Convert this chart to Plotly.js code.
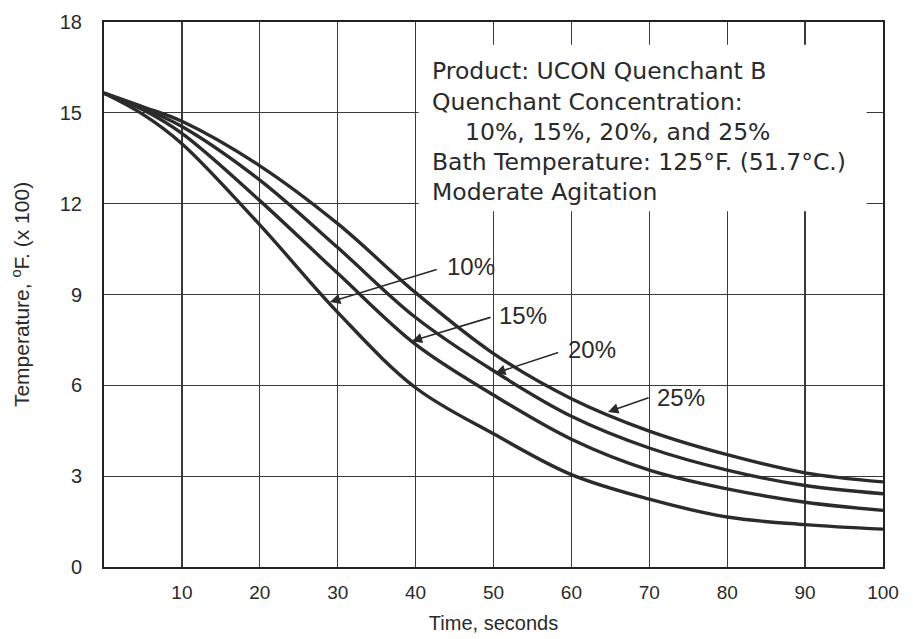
<!DOCTYPE html>
<html>
<head>
<meta charset="utf-8">
<script src="https://cdn.plot.ly/plotly-3.0.1.min.js"></script>
<style>html,body{margin:0;padding:0;background:#fff;}#chart{width:913px;height:639px;}</style>
</head>
<body>
<div id="chart"></div>
<script>
// Time, seconds
const time = [0, 5, 10, 20, 30, 40, 50, 60, 70, 80, 90, 100];
// Temperature, °F x 100, per quenchant concentration
const conc10 = [15.65, 14.95, 13.98, 11.30, 8.41, 5.92, 4.40, 3.05, 2.24, 1.65, 1.40, 1.25];
const conc15 = [15.65, 15.10, 14.32, 12.10, 9.70, 7.35, 5.68, 4.22, 3.20, 2.58, 2.14, 1.87];
const conc20 = [15.65, 15.15, 14.55, 12.78, 10.55, 8.24, 6.48, 4.98, 3.93, 3.20, 2.69, 2.42];
const conc25 = [15.65, 15.20, 14.72, 13.25, 11.34, 9.06, 7.05, 5.56, 4.49, 3.71, 3.11, 2.81];
const seriesNames = ["10%", "15%", "20%", "25%"];
const xTicks = [10, 20, 30, 40, 50, 60, 70, 80, 90, 100];
const yTicks = [0, 3, 6, 9, 12, 15, 18];
const infoLines = [
  "Product: UCON Quenchant B",
  "Quenchant Concentration:",
  "10%, 15%, 20%, and 25%",
  "Bath Temperature: 125°F. (51.7°C.)",
  "Moderate Agitation"
];

const lineCol = "#2b2b2b";
const allSeries = [conc10, conc15, conc20, conc25];
const traces = allSeries.map((ys, i) => ({
  x: time, y: ys, name: seriesNames[i], type: "scatter", mode: "lines",
  line: {color: lineCol, width: 3.4, shape: "spline", smoothing: 1.0},
  hoverinfo: "skip"
}));

// label layout (text centre and arrow tail/tip in axis units)
const labelPos = [
  {tx: 47.1, ty: 9.91, ax: 42.9, ay: 9.84, px: 29.0, py: 8.75},
  {tx: 53.8, ty: 8.32, ax: 49.8, ay: 8.26, px: 39.5, py: 7.46},
  {tx: 62.6, ty: 7.17, ax: 58.5, ay: 7.10, px: 50.2, py: 6.40},
  {tx: 74.1, ty: 5.61, ax: 70.1, ay: 5.61, px: 64.7, py: 5.12}
];
const annFont = {family: "Liberation Sans, Arial, sans-serif", size: 24, color: "#2a2a2a"};
const annotations = [];
labelPos.forEach((p, i) => {
  annotations.push({x: p.tx, y: p.ty, xref: "x", yref: "y", text: seriesNames[i],
    showarrow: false, xanchor: "center", yanchor: "middle", font: annFont});
  annotations.push({x: p.px, y: p.py, xref: "x", yref: "y", ax: p.ax, ay: p.ay,
    axref: "x", ayref: "y", text: "", showarrow: true, arrowhead: 2, arrowsize: 1.3,
    arrowwidth: 1.6, arrowcolor: "#2a2a2a"});
});
const infoX = [41.85, 41.85, 46.1, 41.85, 41.85];
const infoY = [16.39, 15.37, 14.38, 13.39, 12.39];
infoLines.forEach((t, i) => {
  annotations.push({x: infoX[i], y: infoY[i], xref: "x", yref: "y", text: t,
    showarrow: false, xanchor: "left", yanchor: "middle",
    font: {family: "DejaVu Sans, sans-serif", size: 23.5, color: "#2a2a2a"}});
});

const layout = {
  width: 913, height: 639,
  margin: {l: 104, r: 30, t: 22, b: 72, pad: 0},
  paper_bgcolor: "#fff", plot_bgcolor: "#fff",
  showlegend: false,
  font: {family: "Liberation Sans, Arial, sans-serif", color: "#2a2a2a"},
  xaxis: {
    range: [0, 100], tickvals: xTicks, ticks: "", showgrid: true,
    gridcolor: "#3a3a3a", gridwidth: 1.3, zeroline: false,
    showline: true, mirror: true, linecolor: "#222", linewidth: 2,
    tickfont: {size: 19, color: "#2a2a2a"}, ticklabelstandoff: 7,
    title: {text: "Time, seconds", font: {size: 20, color: "#2a2a2a"}, standoff: 14}
  },
  yaxis: {
    range: [0, 18], tickvals: yTicks, ticks: "", showgrid: true,
    gridcolor: "#3a3a3a", gridwidth: 1.3, zeroline: false,
    showline: true, mirror: true, linecolor: "#222", linewidth: 2,
    tickfont: {size: 20, color: "#2a2a2a"}, ticklabelstandoff: 16,
    title: {text: "Temperature, <sup>o</sup>F. (x 100)", font: {size: 21, color: "#2a2a2a"}, standoff: 24}
  },
  shapes: [{type: "rect", xref: "x", yref: "y", x0: 40.4, x1: 97.9, y0: 11.75, y1: 17.25,
    fillcolor: "#fff", line: {width: 0}, layer: "above"}],
  annotations: annotations
};

Plotly.newPlot("chart", traces, layout, {staticPlot: true, displayModeBar: false});
</script>
</body>
</html>
